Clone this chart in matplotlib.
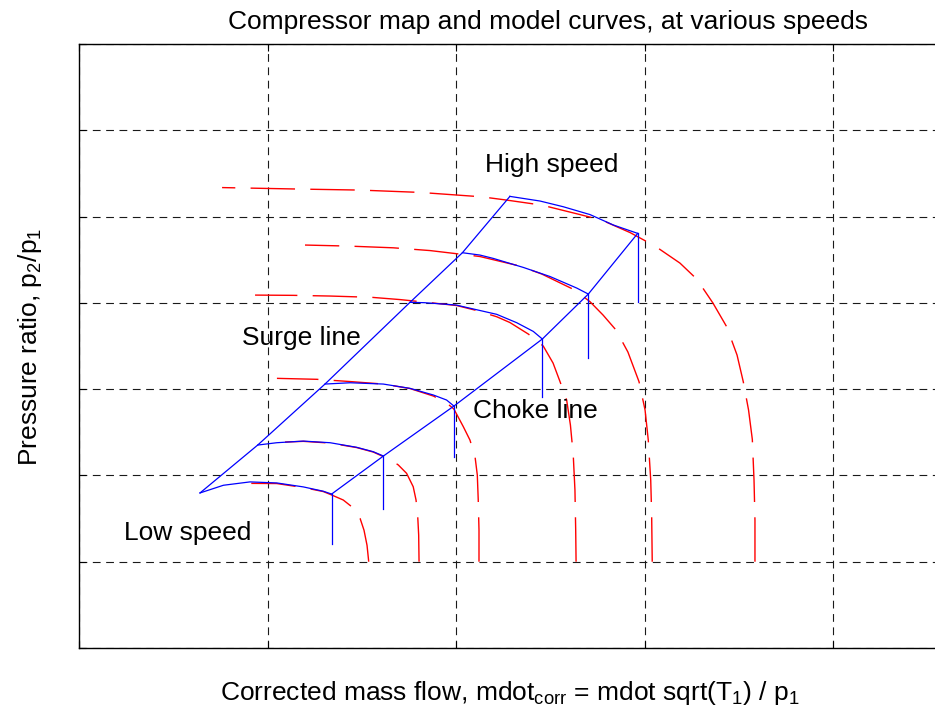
import matplotlib
matplotlib.use("Agg")
import matplotlib.pyplot as plt

plt.rcParams['font.family'] = ['Liberation Sans', 'DejaVu Sans']
plt.rcParams['mathtext.fontset'] = 'custom'
plt.rcParams['mathtext.rm'] = 'Liberation Sans'
plt.rcParams['mathtext.default'] = 'regular'

# measured map, one speed line each (low speed -> high speed)
map1_x = [0.907, 1.049, 1.190, 1.296, 1.341, 1.402, 1.447, 1.491, 1.512, 1.528, 1.537]
map1_y = [1.908, 1.906, 1.860, 1.813, 1.773, 1.715, 1.637, 1.503, 1.365, 1.190, 1.0]
map2_x = [1.093, 1.190, 1.332, 1.473, 1.561, 1.614, 1.655, 1.694, 1.738, 1.773, 1.788, 1.797, 1.802, 1.804]
map2_y = [2.387, 2.395, 2.375, 2.323, 2.271, 2.219, 2.178, 2.121, 2.024, 1.869, 1.715, 1.521, 1.309, 1.0]
map3_x = [1.050, 1.261, 1.438, 1.614, 1.756, 1.880, 1.951, 1.989, 2.039, 2.074, 2.101, 2.113, 2.118, 2.122, 2.122]
map3_y = [3.125, 3.114, 3.088, 3.059, 3.007, 2.920, 2.839, 2.769, 2.564, 2.410, 2.217, 2.005, 1.715, 1.367, 1.0]
map4_x = [0.934, 1.137, 1.332, 1.553, 1.703, 1.880, 2.004, 2.110, 2.216, 2.286, 2.384, 2.463, 2.515,
          2.552, 2.587, 2.607, 2.622, 2.631, 2.635, 2.637]
map4_y = [4.090, 4.087, 4.079, 4.064, 4.038, 3.998, 3.969, 3.911, 3.839, 3.772, 3.638, 3.499, 3.302,
          3.086, 2.874, 2.584, 2.236, 1.831, 1.367, 1.0]
map5_x = [1.199, 1.429, 1.667, 1.862, 1.986, 2.127, 2.340, 2.455, 2.631, 2.711, 2.780, 2.849, 2.912,
          2.971, 3.003, 3.020, 3.033, 3.038, 3.041]
map5_y = [4.670, 4.658, 4.638, 4.606, 4.574, 4.537, 4.426, 4.334, 4.148, 4.013, 3.859, 3.685, 3.430,
          3.086, 2.758, 2.410, 1.947, 1.541, 1.0]
map6_x = [0.759, 1.163, 1.491, 1.809, 2.136, 2.269, 2.455, 2.658, 2.773, 2.923, 3.056, 3.188, 3.277,
          3.363, 3.436, 3.491, 3.524, 3.552, 3.572, 3.581, 3.586, 3.586]
map6_y = [5.336, 5.319, 5.307, 5.280, 5.229, 5.191, 5.133, 5.023, 4.959, 4.815, 4.658, 4.461, 4.276,
          3.998, 3.723, 3.395, 3.086, 2.758, 2.418, 1.947, 1.483, 1.0]

# model speed lines, from surge point to choke point
mod1_x = [0.642, 0.766, 0.907, 1.049, 1.190, 1.296, 1.340]
mod1_y = [1.797, 1.886, 1.925, 1.913, 1.867, 1.817, 1.784]
mod2_x = [0.948, 1.049, 1.190, 1.332, 1.473, 1.561, 1.615]
mod2_y = [2.352, 2.379, 2.398, 2.379, 2.326, 2.275, 2.225]
mod3_x = [1.305, 1.438, 1.614, 1.756, 1.880, 1.950, 1.989]
mod3_y = [3.059, 3.074, 3.059, 3.009, 2.932, 2.874, 2.804]
mod4_x = [1.756, 1.832, 2.000, 2.216, 2.322, 2.410, 2.458]
mod4_y = [4.006, 4.002, 3.975, 3.867, 3.770, 3.669, 3.581]
mod5_x = [2.034, 2.127, 2.198, 2.358, 2.499, 2.641, 2.702]
mod5_y = [4.581, 4.554, 4.515, 4.410, 4.305, 4.171, 4.102]
mod6_x = [2.286, 2.446, 2.569, 2.711, 2.835, 2.964]
mod6_y = [5.234, 5.180, 5.114, 5.023, 4.902, 4.805]

# lower end of the vertical line below each choke point
choke_bottom = [1.202, 1.607, 2.217, 2.912, 3.357, 4.013]

labels = ['High speed', 'Surge line', 'Choke line', 'Low speed']
label_x = [2.509, 1.178, 2.419, 0.578]
label_y = [5.597, 3.592, 2.746, 1.333]

map_x = [map1_x, map2_x, map3_x, map4_x, map5_x, map6_x]
map_y = [map1_y, map2_y, map3_y, map4_y, map5_y, map6_y]
mod_x = [mod1_x, mod2_x, mod3_x, mod4_x, mod5_x, mod6_x]
mod_y = [mod1_y, mod2_y, mod3_y, mod4_y, mod5_y, mod6_y]

fig = plt.figure(figsize=(9.35, 7.13), dpi=100)
ax = fig.add_axes([79 / 935, 65 / 713, 942.5 / 935, 604 / 713])

for mx, my in zip(map_x, map_y):
    ax.plot(mx[::-1], my[::-1], color='r', lw=1.0, dashes=(32, 11))

for cx, cy in zip(mod_x, mod_y):
    ax.plot(cx, cy, color='b', lw=0.9)

ax.plot([c[0] for c in mod_x], [c[0] for c in mod_y], color='b', lw=0.9)
ax.plot([c[-1] for c in mod_x], [c[-1] for c in mod_y], color='b', lw=0.9)
for cx, cy, yb in zip(mod_x, mod_y, choke_bottom):
    ax.plot([cx[-1], cx[-1]], [cy[-1], yb], color='b', lw=0.9)

for t, tx, ty in zip(labels, label_x, label_y):
    ax.text(tx, ty, t, fontsize=19, ha='center', va='center')

ax.set_xlim(0, 5)
ax.set_ylim(0, 7)
ax.set_xticks(range(6))
ax.set_yticks(range(8))
ax.grid(True, color='0.1', linestyle=(0, (7, 5)), lw=0.8)
ax.tick_params(direction='in', length=5, top=True, right=True,
               labelbottom=False, labelleft=False, width=0.8)
for s in ax.spines.values():
    s.set_linewidth(1.0)

fig.text(548 / 935, 1 - 22 / 713, 'Compressor map and model curves, at various speeds',
         fontsize=19, ha='center', va='center')
fig.text(510 / 935, 13 / 713, 'Corrected mass flow, mdot$_{corr}$ = mdot sqrt(T$_1$) / p$_1$',
         fontsize=19, ha='center', va='baseline')
fig.text(30 / 935, 1 - 347 / 713, 'Pressure ratio, p$_2$/p$_1$',
         fontsize=19, ha='center', va='center', rotation=90)

fig.savefig('out.png', dpi=100)
